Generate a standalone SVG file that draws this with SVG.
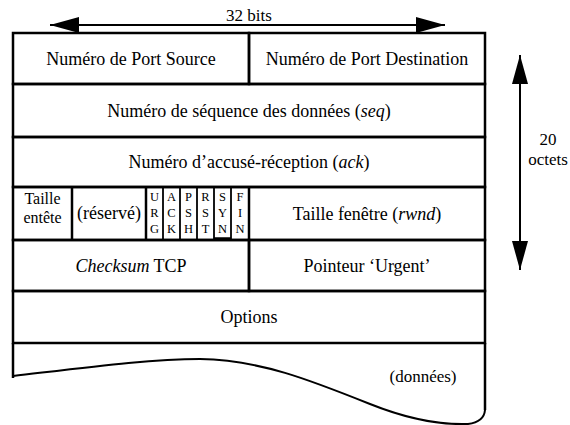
<svg xmlns="http://www.w3.org/2000/svg" width="570" height="425" viewBox="0 0 570 425">
<style>
.b{fill:none;stroke:#000;stroke-width:2.5}
.thin{fill:none;stroke:#000;stroke-width:1.8}
text{font-family:'Liberation Serif','DejaVu Serif',serif;fill:#000;text-anchor:middle}
.t{font-size:18px}
.s{font-size:17px}
.m{font-size:16px}
.f{font-size:12.5px}
</style>
<defs>
<marker id="ah" markerWidth="30" markerHeight="18" refX="29" refY="8" orient="auto" markerUnits="userSpaceOnUse">
<path d="M0,0 L29,8 L0,16 Z" fill="#000"/>
</marker>
</defs>
<rect width="570" height="425" fill="#fff"/>
<g id="connectors">
<line x1="50" y1="25" x2="445" y2="25" stroke="#000" stroke-width="2" marker-end="url(#ah)"/>
<line x1="445" y1="25" x2="50" y2="25" stroke="#000" stroke-width="2" marker-end="url(#ah)"/>
<line x1="520" y1="55" x2="520" y2="270" stroke="#000" stroke-width="2" marker-end="url(#ah)"/>
<line x1="520" y1="270" x2="520" y2="55" stroke="#000" stroke-width="2" marker-end="url(#ah)"/>
</g>
<g id="label-32bits"><text class="s" x="249" y="21">32 bits</text></g>
<g id="label-20octets"><text class="s" x="548" y="145">20</text><text class="s" x="548" y="165">octets</text></g>
<g id="row1">
<rect class="b" x="13" y="33" width="236" height="51"/>
<rect class="b" x="249" y="33" width="236" height="51"/>
<text class="t" x="131" y="65">Numéro de Port Source</text>
<text class="t" x="367" y="65">Numéro de Port Destination</text>
</g>
<g id="row2">
<rect class="b" x="13" y="84" width="472" height="53"/>
<text class="t" x="249" y="117">Numéro de séquence des données (<tspan font-style="italic">seq</tspan>)</text>
</g>
<g id="row3">
<rect class="b" x="13" y="137" width="472" height="50"/>
<text class="t" x="249" y="168">Numéro d’accusé-réception (<tspan font-style="italic">ack</tspan>)</text>
</g>
<g id="row4">
<rect class="b" x="13" y="187" width="472" height="53"/>
<line class="b" x1="72" y1="187" x2="72" y2="240"/>
<line class="b" x1="146" y1="187" x2="146" y2="240"/>
<line class="thin" x1="163" y1="187" x2="163" y2="240"/>
<line class="thin" x1="180" y1="187" x2="180" y2="240"/>
<line class="thin" x1="197" y1="187" x2="197" y2="240"/>
<line class="thin" x1="214" y1="187" x2="214" y2="240"/>
<line class="thin" x1="231" y1="187" x2="231" y2="240"/>
<line class="b" x1="249" y1="187" x2="249" y2="240"/>
<line x1="214" y1="238.5" x2="231" y2="238.5" stroke="#000" stroke-width="2.5"/>
<text class="m" x="42.5" y="204">Taille</text>
<text class="m" x="42.5" y="222.5">entête</text>
<text class="t" x="109" y="219">(réservé)</text>
<text class="f" x="154.5" y="201">U</text><text class="f" x="154.5" y="217">R</text><text class="f" x="154.5" y="233">G</text>
<text class="f" x="171.5" y="201">A</text><text class="f" x="171.5" y="217">C</text><text class="f" x="171.5" y="233">K</text>
<text class="f" x="188.5" y="201">P</text><text class="f" x="188.5" y="217">S</text><text class="f" x="188.5" y="233">H</text>
<text class="f" x="205.5" y="201">R</text><text class="f" x="205.5" y="217">S</text><text class="f" x="205.5" y="233">T</text>
<text class="f" x="222.5" y="201">S</text><text class="f" x="222.5" y="217">Y</text><text class="f" x="222.5" y="233">N</text>
<text class="f" x="240" y="201">F</text><text class="f" x="240" y="217">I</text><text class="f" x="240" y="233">N</text>
<text class="t" x="367" y="219.5">Taille fenêtre (<tspan font-style="italic">rwnd</tspan>)</text>
</g>
<g id="row5">
<rect class="b" x="13" y="240" width="236" height="51"/>
<rect class="b" x="249" y="240" width="236" height="51"/>
<text class="t" x="131" y="272"><tspan font-style="italic">Checksum</tspan> TCP</text>
<text class="t" x="367" y="272">Pointeur ‘Urgent’</text>
</g>
<g id="row6">
<rect class="b" x="13" y="291" width="472" height="52"/>
<text class="t" x="249" y="323">Options</text>
</g>
<g id="data">
<path class="b" d="M13,343 L13,378"/>
<path class="b" d="M485,343 L485,410"/>
<path fill="none" stroke="#000" stroke-width="2" d="M13,376 C90,367 150,359 200,359 C260,360 310,380 370,404 C410,420 440,425 468,424 Q484,422 485,410"/>
<text class="s" x="423" y="382">(données)</text>
</g>
</svg>
